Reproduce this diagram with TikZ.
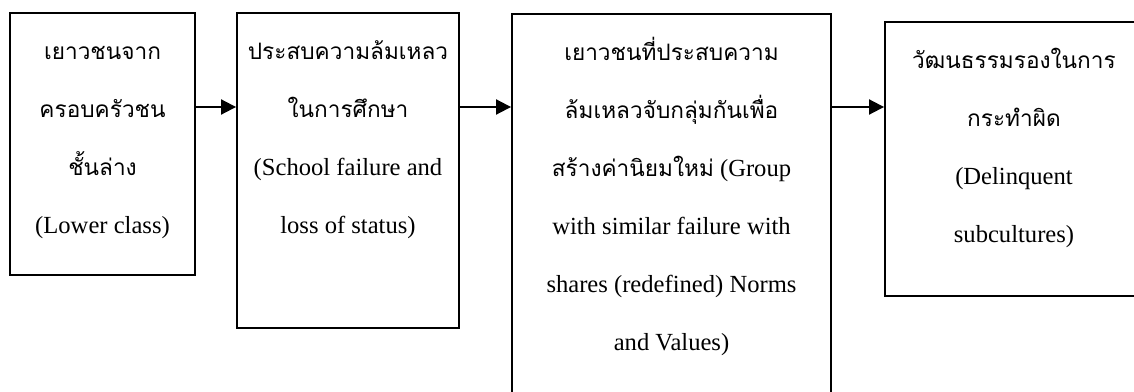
\documentclass[tikz,border=0pt]{standalone}
\usepackage{fontspec}
\setmainfont{Liberation Serif}
\newfontfamily\thaifont[Script=Thai,Scale=0.92]{Loma}
\usetikzlibrary{arrows.meta, positioning}

\newcommand{\lead}{\rule{0pt}{0.94cm}}

\begin{document}
\begin{tikzpicture}[x=0.02cm, y=-0.02cm,
  every node/.style={font=\fontsize{14}{33}\selectfont},
  stage/.style={draw, line width=1.1pt, inner sep=0pt},
  stagetext/.style={anchor=north, inner sep=0pt, align=center},
  flow/.style={-{Triangle[length=0.3cm, width=0.3cm]}, line width=1.1pt}]

  \useasboundingbox (0,0) rectangle (1134,392);
  \clip (0,0) rectangle (1134,392);

  % the four stages
  \node[stage, minimum width=3.70cm, minimum height=5.24cm] (lower) at (102.5,144) {};
  \node[stage, minimum width=4.44cm, minimum height=6.30cm] (failure) at (348,170.5) {};
  \node[stage, minimum width=6.38cm, minimum height=8.12cm] (group) at (671.5,217) {};
  \node[stage, minimum width=5.16cm, minimum height=5.48cm] (subculture) at (1014,159) {};

  \node[stagetext] (lowertxt) at (lower.north)
    {\lead{\thaifont เยาวชนจาก}\\{\thaifont ครอบครัวชน}\\{\thaifont ชั้นล่าง}\\(Lower class)};
  \node[stagetext] (failuretxt) at (failure.north)
    {\lead{\thaifont ประสบความล้มเหลว}\\{\thaifont ในการศึกษา}\\(School failure and\\loss of status)};
  \node[stagetext] (grouptxt) at (group.north)
    {\lead{\thaifont เยาวชนที่ประสบความ}\\{\thaifont ล้มเหลวจับกลุ่มกันเพื่อ}\\{\thaifont สร้างค่านิยมใหม่} (Group\\with similar failure with\\shares (redefined) Norms\\and Values)};
  \node[stagetext] (subculturetxt) at (subculture.north)
    {\lead{\thaifont วัฒนธรรมรองในการ}\\{\thaifont กระทำผิด}\\(Delinquent\\subcultures)};

  % arrows
  \coordinate (flowline) at (0,107);
  \draw[flow] (lower.east |- flowline) -- (failure.west |- flowline);
  \draw[flow] (failure.east |- flowline) -- (group.west |- flowline);
  \draw[flow] (group.east |- flowline) -- (subculture.west |- flowline);
\end{tikzpicture}
\end{document}
